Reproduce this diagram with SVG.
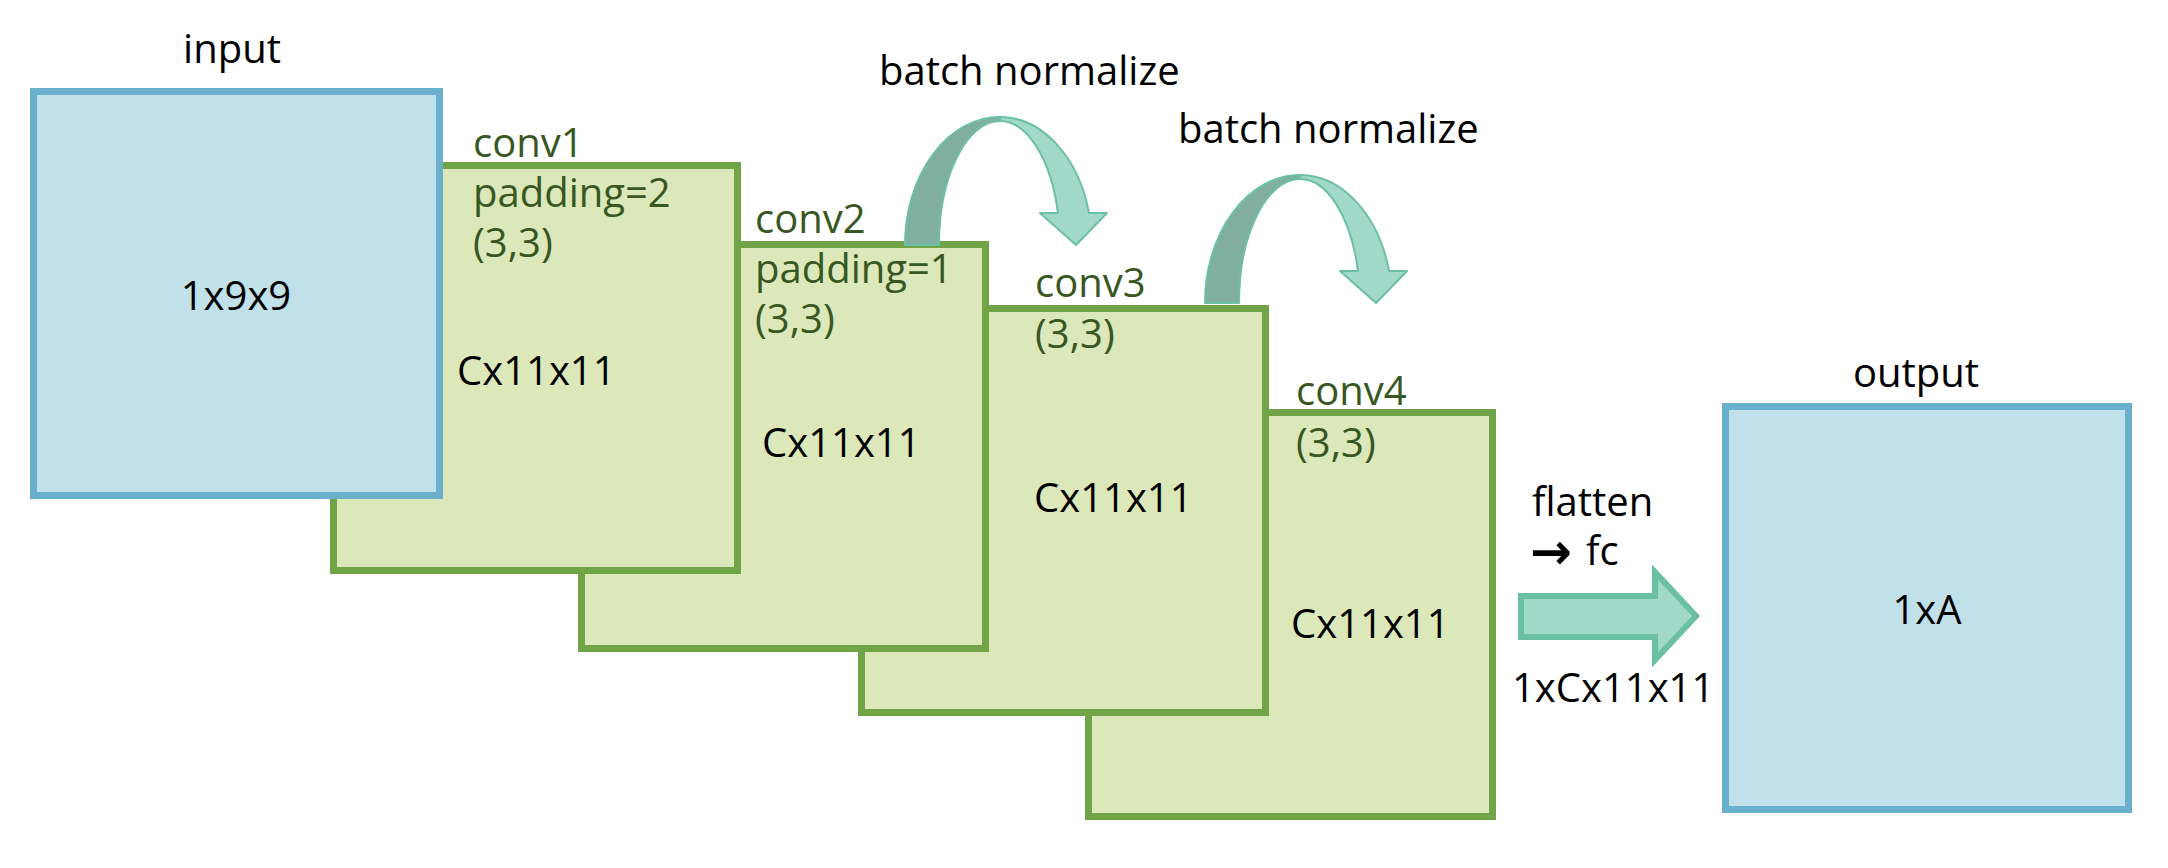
<svg xmlns="http://www.w3.org/2000/svg" width="2168" height="868" viewBox="0 0 2168 868">
<style>
text{font-family:"Open Sans","Liberation Sans","DejaVu Sans",sans-serif;font-size:40px;fill:#000}
.g{fill:#385723}
.arr{font-family:"DejaVu Sans",sans-serif;font-weight:bold;font-size:50px}
.blue{fill:#C0E1E9;stroke:#6AB0CC;stroke-width:7}
.green{fill:#DCE8B9;stroke:#71A347;stroke-width:7}
.back{fill:#80AFA0;stroke:#6CC0A5;stroke-width:2;stroke-linejoin:round}
.front{fill:#A2D9C9;stroke:#6CC0A5;stroke-width:2;stroke-linejoin:round}
.flat{fill:#A0D9C8;stroke:#6BBFA3;stroke-width:6;stroke-linejoin:miter}
</style>
<rect width="2168" height="868" fill="#fff"/>
<g id="conv4">
<rect class="green" x="1088.5" y="412.5" width="404" height="404"/>
<text class="g" x="1296" y="405">conv4</text>
<text class="g" x="1296" y="457">(3,3)</text>
<text x="1291" y="638">Cx11x11</text>
</g>
<g id="conv3">
<rect class="green" x="861.5" y="308.5" width="404" height="404"/>
<text class="g" x="1035" y="297">conv3</text>
<text class="g" x="1035" y="348">(3,3)</text>
<text x="1034" y="512">Cx11x11</text>
</g>
<g id="conv2">
<rect class="green" x="581.5" y="244.5" width="404" height="404"/>
<text class="g" x="755" y="233">conv2</text>
<text class="g" x="755" y="283">padding=1</text>
<text class="g" x="755" y="333">(3,3)</text>
<text x="762" y="457">Cx11x11</text>
</g>
<g id="conv1">
<rect class="green" x="333.5" y="165.5" width="404" height="405"/>
<text class="g" x="473" y="157">conv1</text>
<text class="g" x="473" y="207">padding=2</text>
<text class="g" x="473" y="257">(3,3)</text>
<text x="457" y="385">Cx11x11</text>
</g>
<g id="input">
<rect class="blue" x="33.5" y="91.5" width="406" height="404"/>
<text x="232" y="63" text-anchor="middle">input</text>
<text x="236" y="310" text-anchor="middle">1x9x9</text>
</g>
<g id="output">
<rect class="blue" x="1725.5" y="406.5" width="403" height="403"/>
<text x="1916" y="387" text-anchor="middle">output</text>
<text x="1927" y="624" text-anchor="middle">1xA</text>
</g>
<g id="connectors">
<g id="bn1">
<path class="back" d="M905,245 A95,128 0 0 1 1000,117 L1000,121 A61,124 0 0 0 939,245 Z"/>
<path class="front" d="M1000,117 A92,128 0 0 1 1089,213 L1107,213 L1076,245 L1040,213 L1058,213 A60,124 0 0 0 1000,121 Z"/>
<text x="879" y="85">batch normalize</text>
</g>
<g id="bn2" transform="translate(300,58)">
<path class="back" d="M905,245 A95,128 0 0 1 1000,117 L1000,121 A61,124 0 0 0 939,245 Z"/>
<path class="front" d="M1000,117 A92,128 0 0 1 1089,213 L1107,213 L1076,245 L1040,213 L1058,213 A60,124 0 0 0 1000,121 Z"/>
<text x="878" y="85">batch normalize</text>
</g>
<g id="flatten">
<path class="flat" d="M1521,596 L1655,596 L1655,572 L1696,616 L1655,660 L1655,637 L1521,637 Z"/>
<text x="1532" y="516">flatten</text>
<text x="1530" y="569"><tspan class="arr">→</tspan><tspan x="1586" y="565">fc</tspan></text>
<text x="1512" y="702">1xCx11x11</text>
</g>
</g>
</svg>
